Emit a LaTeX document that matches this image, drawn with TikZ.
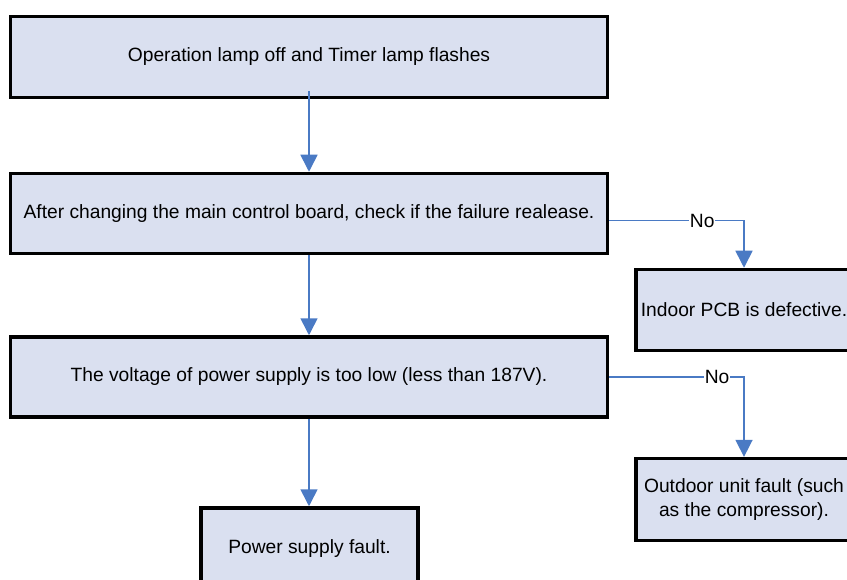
\documentclass[tikz,border=0pt]{standalone}
\usepackage{fontspec}
\setmainfont{Liberation Sans}
\usetikzlibrary{arrows.meta}
\definecolor{boxfill}{HTML}{DAE0F0}
\definecolor{arrowblue}{HTML}{4A7AC4}
\begin{document}
\begin{tikzpicture}[x=1bp,y=-1bp,
  box/.style={draw=black, line width=3.5bp, fill=boxfill, inner sep=0pt, align=center,
    font=\fontsize{19.3}{23.3}\selectfont},
  flow/.style={draw=arrowblue, line width=1.6bp, -{Triangle[width=17bp,length=17bp]}},
  lbl/.style={fill=white, inner sep=0.5bp, text=black, font=\fontsize{19.3}{22}\selectfont}]
\useasboundingbox (0,0) rectangle (847,580);
\clip (0,0) rectangle (847,580);
\node[box, minimum width=597bp, minimum height=81bp] (b1) at (309,57) {Operation lamp off and Timer lamp flashes};
\node[box, minimum width=597bp, minimum height=80bp] (b2) at (309,213.5) {After changing the main control board, check if the failure realease.};
\node[box, minimum width=597bp, minimum height=80bp] (b3) at (309,377) {The voltage of power supply is too low (less than 187V).};
\node[box, minimum width=217bp, minimum height=82bp] (b4) at (309.5,549) {Power supply fault.};
\node[box, minimum width=216bp, minimum height=81bp] (r1) at (744,310) {Indoor PCB is defective.};
\node[box, minimum width=216bp, minimum height=82bp] (r2) at (744,499.6) {Outdoor unit fault (such\\as the compressor).};
\draw[flow] ([yshift=8bp]b1.south) -- (b2.north);
\draw[flow] (b2.south) -- (b3.north);
\draw[flow] (b3.south) -- (b4.north -| b3.south);
\draw[flow] ([yshift=-7bp]b2.east) -| node[lbl, pos=0.345] {No} (r1.north);
\draw[flow] (b3.east) -| node[lbl, pos=0.40] {No} (r2.north);
\end{tikzpicture}
\end{document}
